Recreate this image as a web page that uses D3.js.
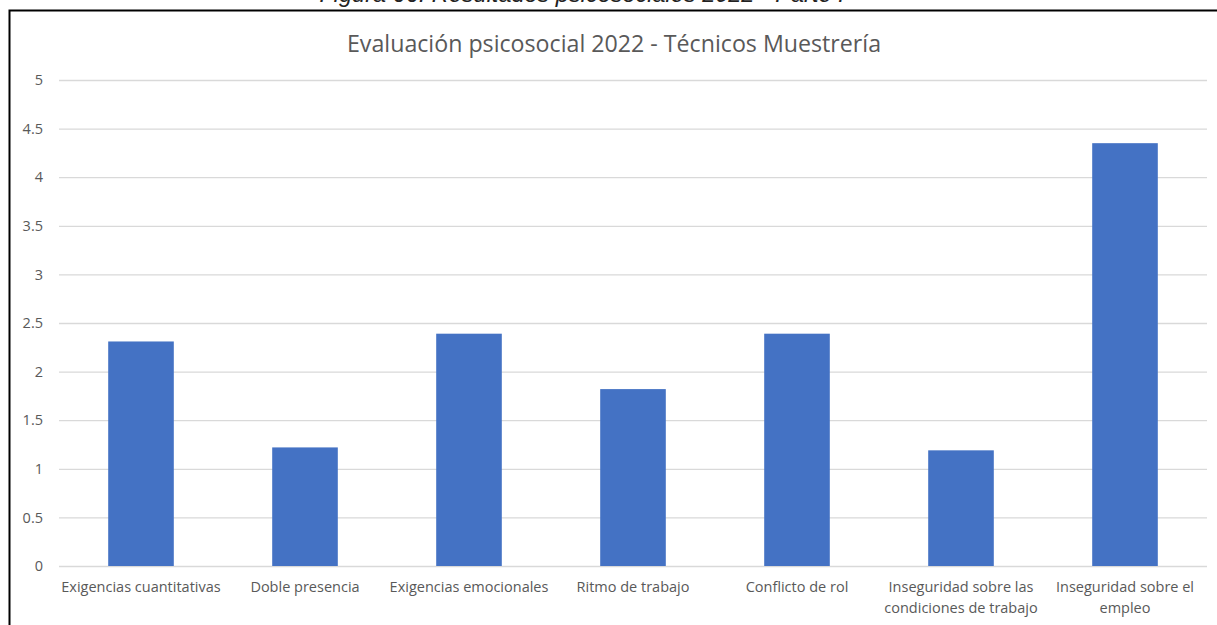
<!DOCTYPE html>
<html>
<head>
<meta charset="utf-8">
<script src="https://cdn.jsdelivr.net/npm/d3@7"></script>
<style>
  html, body { margin: 0; padding: 0; background: #fff; }
  svg { display: block; }
</style>
</head>
<body>
<svg id="chart" width="1217" height="625"></svg>
<script>
// Psychosocial risk dimensions and mean scores
const categories = [
  ["Exigencias cuantitativas"],
  ["Doble presencia"],
  ["Exigencias emocionales"],
  ["Ritmo de trabajo"],
  ["Conflicto de rol"],
  ["Inseguridad sobre las", "condiciones de trabajo"],
  ["Inseguridad sobre el", "empleo"]
];
const values = [2.31, 1.22, 2.39, 1.82, 2.39, 1.19, 4.35];
const yTicks = [0, 0.5, 1, 1.5, 2, 2.5, 3, 3.5, 4, 4.5, 5];
const chartTitle = "Evaluación psicosocial 2022 - Técnicos Muestrería";
const figureCaption = "Figura 66: Resultados psicosociales 2022 - Parte I";

const svg = d3.select("#chart");
const W = 1217, H = 625;
const margin = { left: 59, right: 10, top: 80, bottom: 59 };
const textColor = "#595959";
const font = "'Open Sans', 'Noto Sans', sans-serif";

// Figure caption (runs above the page edge)
svg.append("text")
  .attr("x", 582).attr("y", 2)
  .attr("text-anchor", "middle")
  .attr("font-family", "'Liberation Sans', Arial, sans-serif")
  .attr("font-style", "italic")
  .attr("font-size", 23.5)
  .attr("fill", "#222")
  .text(figureCaption);

// Chart frame
svg.append("path")
  .attr("d", `M9.5,${H + 5} V10.5 H${W + 5}`)
  .attr("fill", "none")
  .attr("stroke", "#000")
  .attr("stroke-width", 2);

const x = d3.scaleBand()
  .domain(d3.range(categories.length))
  .range([margin.left, W - margin.right])
  .paddingInner(0.6)
  .paddingOuter(0.3);

const y = d3.scaleLinear()
  .domain([0, 5])
  .range([H - margin.bottom, margin.top]);

// Horizontal gridlines with value labels
const yAxis = d3.axisLeft(y)
  .tickValues(yTicks)
  .tickSize(-(W - margin.right - margin.left))
  .tickPadding(16)
  .tickFormat(d3.format("~g"));

const gy = svg.append("g")
  .attr("transform", `translate(${margin.left},0)`)
  .call(yAxis);
gy.select(".domain").remove();
gy.selectAll(".tick line").attr("stroke", "#d9d9d9").attr("stroke-width", 1.3);
gy.selectAll(".tick text")
  .attr("fill", textColor)
  .attr("font-family", font)
  .attr("font-size", 14.5);

// Bars
svg.append("g")
  .selectAll("rect")
  .data(values)
  .join("rect")
  .attr("x", (d, i) => x(i))
  .attr("width", x.bandwidth())
  .attr("y", d => y(d))
  .attr("height", d => y(0) - y(d))
  .attr("fill", "#4472c4");

// Category labels
const gx = svg.append("g");
categories.forEach((lines, i) => {
  const t = gx.append("text")
    .attr("x", x(i) + x.bandwidth() / 2)
    .attr("y", y(0) + 26)
    .attr("text-anchor", "middle")
    .attr("fill", textColor)
    .attr("font-family", font)
    .attr("font-size", 14.5);
  lines.forEach((line, j) => {
    t.append("tspan")
      .attr("x", x(i) + x.bandwidth() / 2)
      .attr("dy", j === 0 ? 0 : 21)
      .text(line);
  });
});

// Chart title
svg.append("text")
  .attr("x", 614).attr("y", 52)
  .attr("text-anchor", "middle")
  .attr("fill", textColor)
  .attr("font-family", font)
  .attr("font-size", 23.2)
  .text(chartTitle);
</script>
</body>
</html>
